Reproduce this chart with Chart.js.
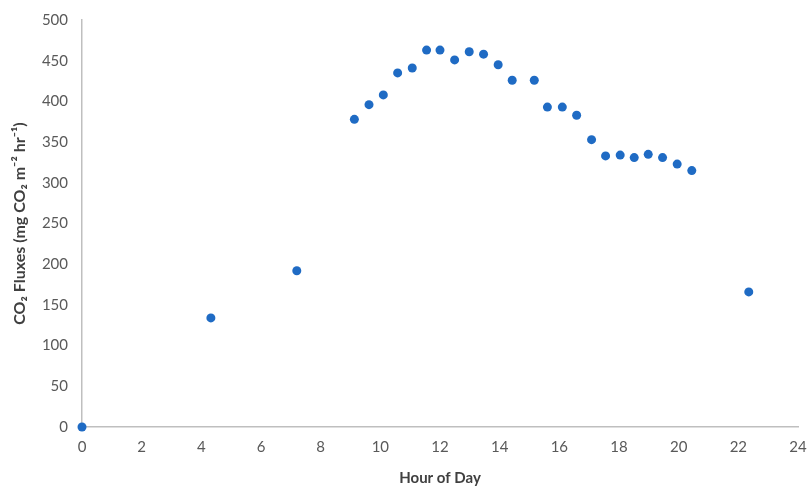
<!DOCTYPE html>
<html>
<head>
<meta charset="utf-8">
<script src="https://cdn.jsdelivr.net/npm/chart.js@4"></script>
<style>
  html, body { margin: 0; padding: 0; background: #fff; }
  #wrap { width: 811px; height: 487px; position: relative; }
</style>
</head>
<body>
<div id="wrap"><canvas id="fluxChart" width="811" height="487"></canvas></div>
<script>
// hour of day vs CO2 flux
const hours = [0, 4.32, 7.2, 9.13, 9.62, 10.1, 10.58, 11.07, 11.55, 12.0, 12.49, 12.98, 13.46, 13.95,
  14.42, 15.16, 15.6, 16.1, 16.58, 17.08, 17.55, 18.04, 18.51, 18.98, 19.46, 19.95, 20.44, 22.35];
const fluxes = [0, 134, 192, 378, 396, 408, 435, 441, 463, 463, 451, 461, 458, 445,
  426, 426, 393, 393, 383, 353, 333, 334, 331, 335, 331, 323, 315, 166];

const xTicks = [0, 2, 4, 6, 8, 10, 12, 14, 16, 18, 20, 22, 24];
const yTicks = [0, 50, 100, 150, 200, 250, 300, 350, 400, 450, 500];

const FONT = "Lato, 'Open Sans', sans-serif";
const axisColor = '#bfbfbf';
const tickColor = '#595959';
const titleColor = '#404040';

const points = hours.map((h, i) => ({ x: h, y: fluxes[i] }));

new Chart(document.getElementById('fluxChart'), {
  type: 'scatter',
  data: {
    datasets: [{
      label: 'CO2 Flux',
      data: points,
      backgroundColor: '#1f6bc4',
      borderColor: '#1f6bc4',
      pointRadius: 4.5,
      pointHoverRadius: 4.5,
      borderWidth: 0,
      clip: false,
    }],
  },
  options: {
    responsive: false,
    animation: false,
    layout: { padding: { top: 20, right: 13, left: 10, bottom: 0 } },
    plugins: { legend: { display: false }, tooltip: { enabled: false } },
    scales: {
      x: {
        type: 'linear',
        min: 0,
        max: 24,
        afterBuildTicks(scale) { scale.ticks = xTicks.map((v) => ({ value: v })); },
        afterFit(scale) {
          scale.height = 60;
          scale.paddingLeft = 0;
          scale.paddingRight = 0;
        },
        grid: { display: false, drawTicks: false },
        border: { display: true, color: axisColor, width: 1.5 },
        ticks: { color: tickColor, font: { family: FONT, size: 15 }, padding: 11 },
        title: {
          display: true,
          text: 'Hour of Day',
          color: titleColor,
          font: { family: FONT, size: 15, weight: 'bold' },
          padding: { top: 0, bottom: 0 },
        },
      },
      y: {
        min: 0,
        max: 500,
        afterBuildTicks(scale) { scale.ticks = yTicks.map((v) => ({ value: v })); },
        afterFit(scale) {
          scale.width = 72;
          scale.paddingTop = 0;
        },
        grid: { display: false, drawTicks: false },
        border: { display: true, color: axisColor, width: 1.5 },
        ticks: { color: tickColor, font: { family: FONT, size: 15 }, padding: 14 },
        title: {
          display: true,
          text: 'CO₂ Fluxes (mg CO₂ m⁻² hr⁻¹)',
          color: titleColor,
          font: { family: FONT, size: 16, weight: 'bold' },
          padding: { top: 0, bottom: 0 },
        },
      },
    },
  },
});
</script>
</body>
</html>
